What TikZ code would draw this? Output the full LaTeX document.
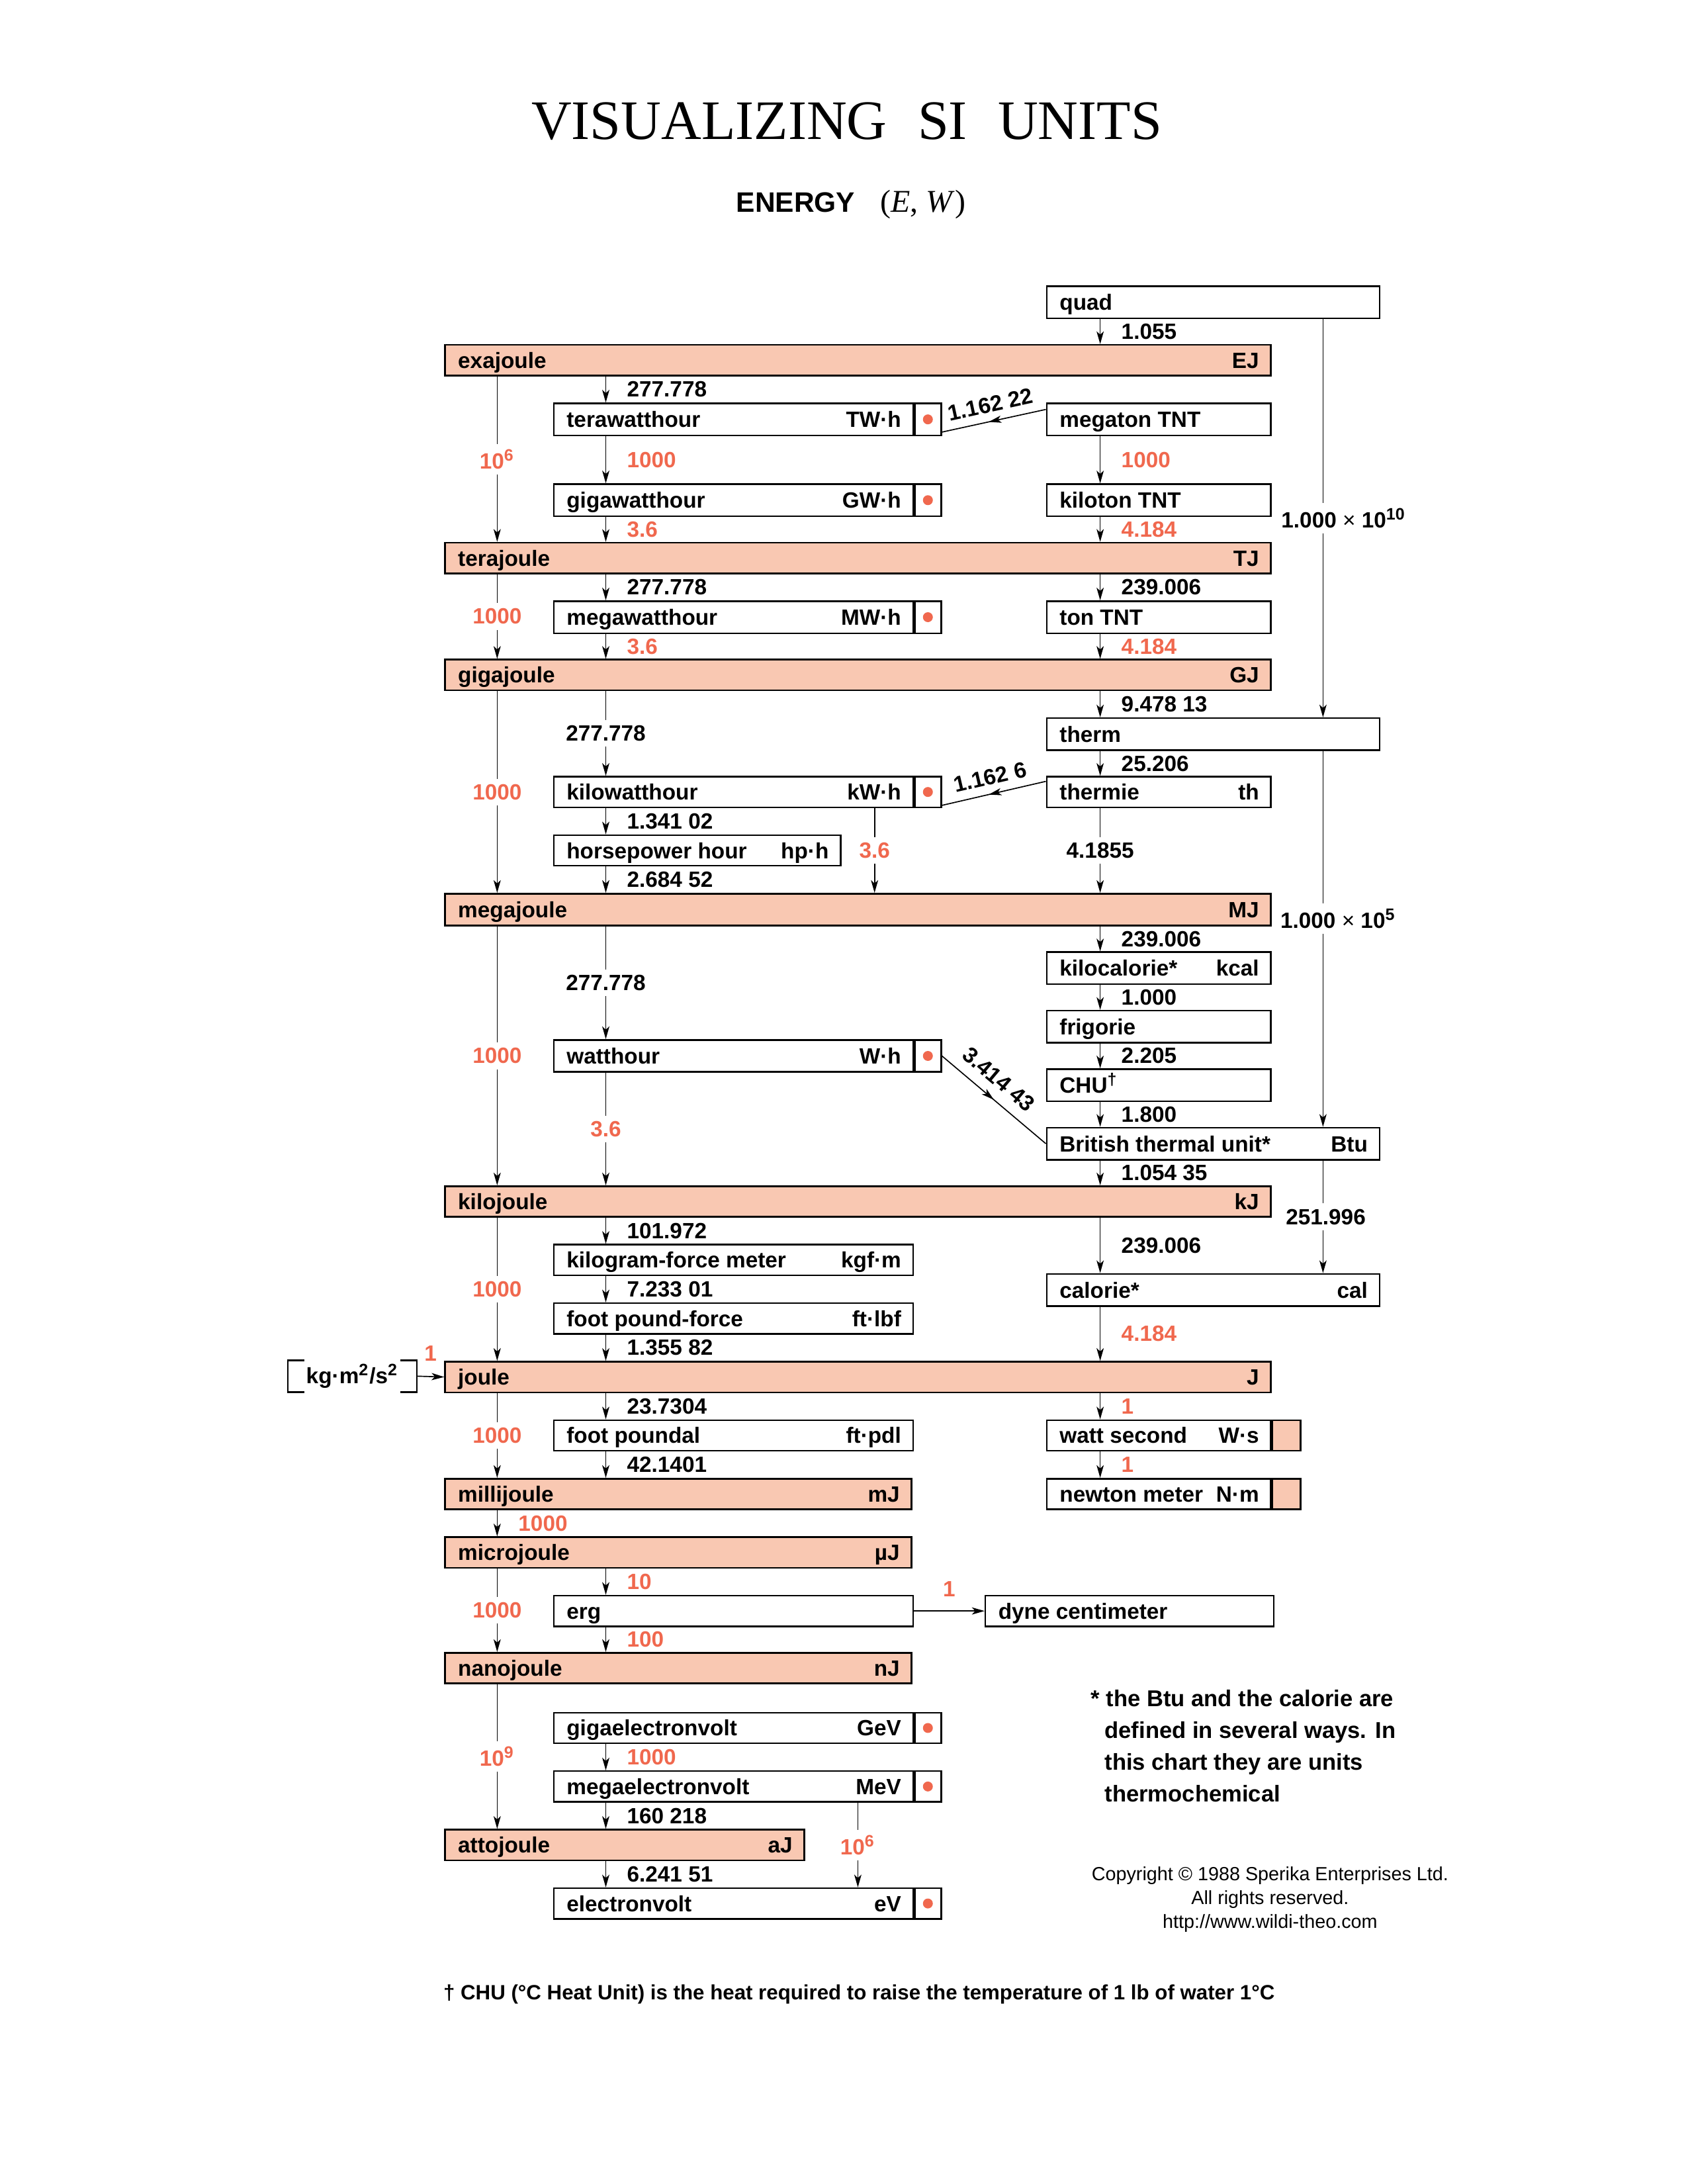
\documentclass[tikz,border=0pt]{standalone}
\usepackage{fontspec}
\setmainfont{Liberation Sans}
\newfontfamily\serifT{Liberation Serif}
\usetikzlibrary{arrows.meta,calc,decorations.markings}
\definecolor{salmon}{HTML}{F9C8B2}
\definecolor{coral}{HTML}{F0684E}
\tikzset{
 sib/.style={draw, line width=0.6pt, fill=salmon, inner sep=0pt},
 wb/.style={draw, line width=0.6pt, fill=white, inner sep=0pt},
 lbl/.style={inner sep=0pt, font=\bfseries\fontsize{8}{9.6}\selectfont},
 arr/.style={line width=0.4pt, -{Stealth[length=4.6pt,width=2.6pt,inset=1.2pt]}},
 rn/.style={lbl, anchor=west, xshift=7.5pt},
 rr/.style={rn, text=coral},
 cn/.style={lbl, fill=white, inner ysep=2pt, inner xsep=1pt},
 cr/.style={cn, text=coral},
 midarr/.style={line width=0.4pt, postaction={decorate}, decoration={markings, mark=at position #1 with {\arrow{Stealth[length=4.6pt,width=2.6pt,inset=1.2pt]}}}},
 midarr/.default=0.55,
}
\newcommand\UBox[8]{%
  \node[#2, minimum width={(#5-#3)*0.505pt}, minimum height={(#6-#4)*0.505pt}, anchor=north west] (#1) at (#3,#4) {};
  \node[lbl, anchor=base west] (#1-l) at ([xshift=4.8pt, yshift=-2.87pt]#1.west) {#7};
  \node[lbl, anchor=base east] (#1-r) at ([xshift=-4.4pt, yshift=-2.87pt]#1.east) {#8};
}
\newcommand\DCell[3]{%
  \node[wb, minimum width={19*0.505pt}, minimum height={#3*0.505pt}, anchor=north west] (#1) at (#2.north east) {};
  \fill[coral] (#1.center) circle (1.8pt);
}
\newcommand\SCell[3]{%
  \node[sib, minimum width={20*0.505pt}, minimum height={#3*0.505pt}, anchor=north west] (#1) at (#2.north east) {};
}
\begin{document}
\begin{tikzpicture}[x=0.505pt, y=-0.505pt]
\useasboundingbox (0,0) rectangle (1212,1568);
% titles
\node (title) at (608,87) {\serifT\fontsize{20.2}{24}\selectfont VISUALIZING\hspace{0.55em}SI\hspace{0.55em}UNITS};
\node (sub) at (611,147) {\bfseries\fontsize{10.2}{12}\selectfont ENERGY\hspace{0.9em}{\serifT\mdseries\fontsize{11.5}{13}\selectfont(\textit{E}, \textit{W})}};
% column coordinates
\coordinate (cL) at (357,0);
\coordinate (cM) at (435,0);
\coordinate (cR) at (790,0);
\coordinate (cF) at (950,0);
\coordinate (cK) at (628,0);
\coordinate (cE) at (616,0);
% SI boxes
\UBox{EJ}{sib}{319}{247}{912}{269}{exajoule}{EJ}
\UBox{TJ}{sib}{319}{389}{912}{411}{terajoule}{TJ}
\UBox{GJ}{sib}{319}{473}{912}{495}{gigajoule}{GJ}
\UBox{MJ}{sib}{319}{641}{912}{664}{megajoule}{MJ}
\UBox{kJ}{sib}{319}{851}{912}{873}{kilojoule}{kJ}
\UBox{J}{sib}{319}{977}{912}{999}{joule}{J}
\UBox{mJ}{sib}{319}{1061}{654}{1083}{millijoule}{mJ}
\UBox{uJ}{sib}{319}{1103}{654}{1125}{microjoule}{µJ}
\UBox{nJ}{sib}{319}{1186}{654}{1208}{nanojoule}{nJ}
\UBox{aJ}{sib}{319}{1313}{577}{1335}{attojoule}{aJ}
% middle boxes
\UBox{TWh}{wb}{397}{289}{655}{312}{terawatthour}{TW·h}\DCell{TWhc}{TWh}{23}
\UBox{GWh}{wb}{397}{347}{655}{370}{gigawatthour}{GW·h}\DCell{GWhc}{GWh}{23}
\UBox{MWh}{wb}{397}{431}{655}{454}{megawatthour}{MW·h}\DCell{MWhc}{MWh}{23}
\UBox{kWh}{wb}{397}{557}{655}{579}{kilowatthour}{kW·h}\DCell{kWhc}{kWh}{22}
\UBox{hph}{wb}{397}{599}{603}{621}{horsepower hour}{hp·h}
\UBox{Wh}{wb}{397}{746}{655}{769}{watthour}{W·h}\DCell{Whc}{Wh}{23}
\UBox{kgfm}{wb}{397}{893}{655}{915}{kilogram-force meter}{kgf·m}
\UBox{ftlbf}{wb}{397}{935}{655}{957}{foot pound-force}{ft·lbf}
\UBox{ftpdl}{wb}{397}{1019}{655}{1041}{foot poundal}{ft·pdl}
\UBox{erg}{wb}{397}{1145}{655}{1167}{erg}{}
\UBox{GeV}{wb}{397}{1229}{655}{1251}{gigaelectronvolt}{GeV}\DCell{GeVc}{GeV}{22}
\UBox{MeV}{wb}{397}{1271}{655}{1293}{megaelectronvolt}{MeV}\DCell{MeVc}{MeV}{22}
\UBox{eV}{wb}{397}{1355}{655}{1377}{electronvolt}{eV}\DCell{eVc}{eV}{22}
% right boxes
\UBox{quad}{wb}{751}{205}{990}{228}{quad}{}
\UBox{MT}{wb}{751}{289}{912}{312}{megaton TNT}{}
\UBox{kT}{wb}{751}{347}{912}{370}{kiloton TNT}{}
\UBox{tT}{wb}{751}{431}{912}{454}{ton TNT}{}
\UBox{therm}{wb}{751}{515}{990}{538}{therm}{}
\UBox{th}{wb}{751}{557}{912}{579}{thermie}{th}
\UBox{kcal}{wb}{751}{683}{912}{706}{kilocalorie*}{kcal}
\UBox{frig}{wb}{751}{725}{912}{748}{frigorie}{}
\UBox{CHU}{wb}{751}{767}{912}{790}{CHU\textsuperscript{†}}{}
\UBox{Btu}{wb}{751}{809}{990}{832}{British thermal unit*}{Btu}
\UBox{cal}{wb}{751}{914}{990}{937}{calorie*}{cal}
\UBox{Ws}{wb}{751}{1019}{912}{1041}{watt second}{W·s}\SCell{Wsc}{Ws}{22}
\UBox{Nm}{wb}{751}{1061}{912}{1083}{newton meter}{N·m}\SCell{Nmc}{Nm}{22}
\UBox{dyne}{wb}{707}{1145}{914}{1167}{dyne centimeter}{}
% bracket unit
\node[lbl, minimum width={92*0.505pt}, minimum height={22*0.505pt}] (kgb) at (253,988) {kg·m\textsuperscript{2}/s\textsuperscript{2}};
\draw[line width=0.6pt] ([xshift=6pt]kgb.north west) -- (kgb.north west) -- (kgb.south west) -- ([xshift=6pt]kgb.south west);
\draw[line width=0.6pt] ([xshift=-6pt]kgb.north east) -- (kgb.north east) -- (kgb.south east) -- ([xshift=-6pt]kgb.south east);
\draw[arr] (kgb.east) -- node[lbl, text=coral, above=5.5pt] {1} (J.west);
% left column
\draw[arr] (EJ.south -| cL) -- node[cr] {10\textsuperscript{6}} (TJ.north -| cL);
\draw[arr] (TJ.south -| cL) -- node[cr] {1000} (GJ.north -| cL);
\draw[arr] (GJ.south -| cL) -- node[cr] {1000} (MJ.north -| cL);
\draw[arr] (MJ.south -| cL) -- node[cr] {1000} (kJ.north -| cL);
\draw[arr] (kJ.south -| cL) -- node[cr] {1000} (J.north -| cL);
\draw[arr] (J.south -| cL) -- node[cr] {1000} (mJ.north -| cL);
\draw[arr] (mJ.south -| cL) -- node[rr] {1000} (uJ.north -| cL);
\draw[arr] (uJ.south -| cL) -- node[cr] {1000} (nJ.north -| cL);
\draw[arr] (nJ.south -| cL) -- node[cr] {10\textsuperscript{9}} (aJ.north -| cL);
% middle column
\draw[arr] (EJ.south -| cM) -- node[rn] {277.778} (TWh.north -| cM);
\draw[arr] (TWh.south -| cM) -- node[rr] {1000} (GWh.north -| cM);
\draw[arr] (GWh.south -| cM) -- node[rr] {3.6} (TJ.north -| cM);
\draw[arr] (TJ.south -| cM) -- node[rn] {277.778} (MWh.north -| cM);
\draw[arr] (MWh.south -| cM) -- node[rr] {3.6} (GJ.north -| cM);
\draw[arr] (GJ.south -| cM) -- node[cn] {277.778} (kWh.north -| cM);
\draw[arr] (kWh.south -| cM) -- node[rn] {1.341 02} (hph.north -| cM);
\draw[arr] (hph.south -| cM) -- node[rn] {2.684 52} (MJ.north -| cM);
\draw[arr] (MJ.south -| cM) -- node[cn] {277.778} (Wh.north -| cM);
\draw[arr] (Wh.south -| cM) -- node[cr] {3.6} (kJ.north -| cM);
\draw[arr] (kJ.south -| cM) -- node[rn] {101.972} (kgfm.north -| cM);
\draw[arr] (kgfm.south -| cM) -- node[rn] {7.233 01} (ftlbf.north -| cM);
\draw[arr] (ftlbf.south -| cM) -- node[rn] {1.355 82} (J.north -| cM);
\draw[arr] (J.south -| cM) -- node[rn] {23.7304} (ftpdl.north -| cM);
\draw[arr] (ftpdl.south -| cM) -- node[rn] {42.1401} (mJ.north -| cM);
\draw[arr] (uJ.south -| cM) -- node[rr] {10} (erg.north -| cM);
\draw[arr] (erg.south -| cM) -- node[rr] {100} (nJ.north -| cM);
\draw[arr] (GeV.south -| cM) -- node[rr] {1000} (MeV.north -| cM);
\draw[arr] (MeV.south -| cM) -- node[rn] {160 218} (aJ.north -| cM);
\draw[arr] (aJ.south -| cM) -- node[rn] {6.241 51} (eV.north -| cM);
\draw[arr] (kWh.south -| cK) -- node[cr] {3.6} (MJ.north -| cK);
\draw[arr] (MeV.south -| cE) -- node[cr] {10\textsuperscript{6}} (eV.north -| cE);
% right column
\draw[arr] (quad.south -| cR) -- node[rn] {1.055} (EJ.north -| cR);
\draw[arr] (MT.south -| cR) -- node[rr] {1000} (kT.north -| cR);
\draw[arr] (kT.south -| cR) -- node[rr] {4.184} (TJ.north -| cR);
\draw[arr] (TJ.south -| cR) -- node[rn] {239.006} (tT.north -| cR);
\draw[arr] (tT.south -| cR) -- node[rr] {4.184} (GJ.north -| cR);
\draw[arr] (GJ.south -| cR) -- node[rn] {9.478 13} (therm.north -| cR);
\draw[arr] (therm.south -| cR) -- node[rn] {25.206} (th.north -| cR);
\draw[arr] (th.south -| cR) -- node[cn] {4.1855} (MJ.north -| cR);
\draw[arr] (MJ.south -| cR) -- node[rn] {239.006} (kcal.north -| cR);
\draw[arr] (kcal.south -| cR) -- node[rn] {1.000} (frig.north -| cR);
\draw[arr] (frig.south -| cR) -- node[rn] {2.205} (CHU.north -| cR);
\draw[arr] (CHU.south -| cR) -- node[rn] {1.800} (Btu.north -| cR);
\draw[arr] (Btu.south -| cR) -- node[rn] {1.054 35} (kJ.north -| cR);
\draw[arr] (kJ.south -| cR) -- node[rn] {239.006} (cal.north -| cR);
\draw[arr] (cal.south -| cR) -- node[rr] {4.184} (J.north -| cR);
\draw[arr] (J.south -| cR) -- node[rr] {1} (Ws.north -| cR);
\draw[arr] (Ws.south -| cR) -- node[rr] {1} (Nm.north -| cR);
% far right
\draw[arr] (quad.south -| cF) -- node[cn, xshift=7.5pt] {1.000 {\mdseries ×} 10\textsuperscript{10}} (therm.north -| cF);
\draw[arr] (therm.south -| cF) -- node[cn, pos=0.446, xshift=5.5pt] {1.000 {\mdseries ×} 10\textsuperscript{5}} (Btu.north -| cF);
\draw[arr] (Btu.south -| cF) -- node[cn, xshift=1pt] {251.996} (cal.north -| cF);
% diagonals
\draw[midarr=0.55] ([yshift=-2.5pt]MT.north west) -- node[lbl, sloped, above, inner sep=3pt] {1.162 22} ([yshift=1.5pt]TWhc.south east);
\draw[midarr=0.55] ([yshift=-2pt]th.north west) -- node[lbl, sloped, above, inner sep=3pt] {1.162 6} ([yshift=1pt]kWhc.south east);
\draw[midarr=0.5] (Whc.east) -- node[lbl, sloped, above, inner sep=3.8pt, pos=0.43] {3.414 43} (Btu.west);
% erg to dyne
\draw[arr] (erg.east) -- node[lbl, text=coral, above=5pt] {1} (dyne.west);
% notes
\node[anchor=north west, align=left, inner sep=0pt, font=\bfseries\fontsize{8.3}{11.5}\selectfont] (note) at (783,1213)
  {* the Btu and the calorie are\\\hspace*{5pt}defined in several ways. In\\\hspace*{5pt}this chart they are units\\\hspace*{5pt}thermochemical};
\node[anchor=north, align=center, inner sep=0pt, font=\fontsize{6.9}{8.6}\selectfont] (copy) at (912,1340)
  {Copyright © 1988 Sperika Enterprises Ltd.\\All rights reserved.\\http://www.wildi-theo.com};
\node[anchor=west, inner sep=0pt, font=\bfseries\fontsize{7.5}{9}\selectfont] (foot) at (318,1432)
  {† CHU (°C Heat Unit) is the heat required to raise the temperature of 1 lb of water 1°C};
\end{tikzpicture}
\end{document}
